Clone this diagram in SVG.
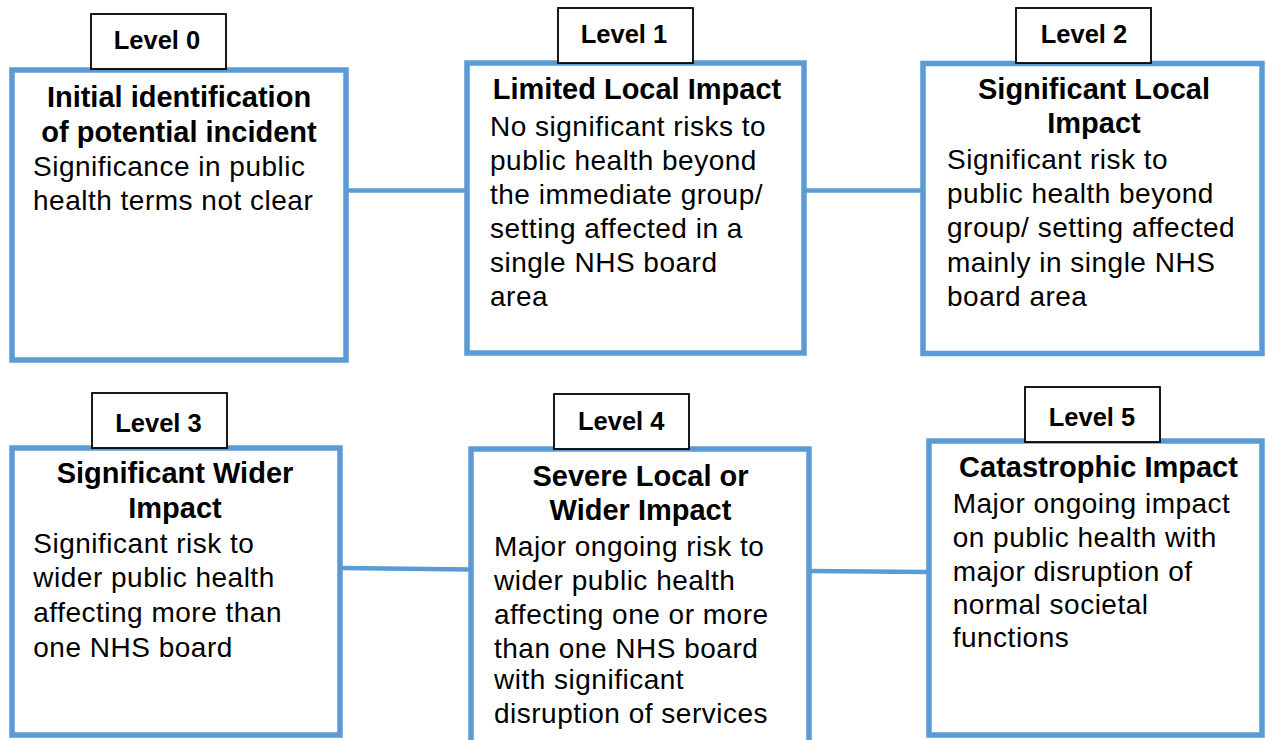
<svg xmlns="http://www.w3.org/2000/svg" width="1266" height="740" viewBox="0 0 1266 740">
<style>
.box{fill:#fff;stroke:#5B9BD5;stroke-width:5.5}
.lbl{fill:#fff;stroke:#000;stroke-width:1.8}
.lt{font-family:"Liberation Sans",Arial,sans-serif;font-weight:bold;font-size:25.5px;text-anchor:middle;fill:#000}
.hd{font-family:"Liberation Sans",Arial,sans-serif;font-weight:bold;font-size:29px;text-anchor:middle;fill:#000}
.bd{font-family:"Liberation Sans",Arial,sans-serif;font-size:28px;letter-spacing:0.5px;fill:#000}
.con{stroke:#5B9BD5;stroke-width:4.5;fill:none}
</style>
<rect width="1266" height="740" fill="#fff"/>
<g id="connectors">
<line class="con" x1="346" y1="190.5" x2="467" y2="190.5"/>
<line class="con" x1="804" y1="190.5" x2="923" y2="190.5"/>
<line class="con" x1="340" y1="568" x2="471" y2="569.5"/>
<line class="con" x1="809" y1="571" x2="929" y2="572"/>
</g>
<g id="level0">
<rect class="box" x="12" y="70" width="334" height="290"/>
<rect class="lbl" x="91" y="14" width="135" height="55"/>
<text class="lt" x="157" y="49">Level 0</text>
<text class="hd" x="179" y="106.5">Initial identification</text>
<text class="hd" x="179" y="141.5">of potential incident</text>
<text class="bd" x="33" y="175.5">Significance in public</text>
<text class="bd" x="33" y="210">health terms not clear</text>
</g>
<g id="level1">
<rect class="box" x="467" y="63" width="337" height="290"/>
<rect class="lbl" x="558" y="8" width="135" height="55"/>
<text class="lt" x="624" y="43.3">Level 1</text>
<text class="hd" x="637" y="99">Limited Local Impact</text>
<text class="bd" x="490" y="135.7">No significant risks to</text>
<text class="bd" x="490" y="170">public health beyond</text>
<text class="bd" x="490" y="203.5">the immediate group/</text>
<text class="bd" x="490" y="237.5">setting affected in a</text>
<text class="bd" x="490" y="271.7">single NHS board</text>
<text class="bd" x="490" y="306">area</text>
</g>
<g id="level2">
<rect class="box" x="923" y="63.5" width="339" height="290"/>
<rect class="lbl" x="1016" y="8" width="135" height="55"/>
<text class="lt" x="1084" y="43.3">Level 2</text>
<text class="hd" x="1094" y="99">Significant Local</text>
<text class="hd" x="1094" y="133.3">Impact</text>
<text class="bd" x="947" y="169">Significant risk to</text>
<text class="bd" x="947" y="203.3">public health beyond</text>
<text class="bd" x="947" y="237.3">group/ setting affected</text>
<text class="bd" x="947" y="271.7">mainly in single NHS</text>
<text class="bd" x="947" y="306">board area</text>
</g>
<g id="level3">
<rect class="box" x="12" y="448" width="328" height="287"/>
<rect class="lbl" x="92" y="393" width="135" height="55"/>
<text class="lt" x="158.5" y="432">Level 3</text>
<text class="hd" x="175" y="483.3">Significant Wider</text>
<text class="hd" x="175" y="517.7">Impact</text>
<text class="bd" x="33.3" y="553.3">Significant risk to</text>
<text class="bd" x="33.3" y="587.3">wider public health</text>
<text class="bd" x="33.3" y="621.7">affecting more than</text>
<text class="bd" x="33.3" y="657">one NHS board</text>
</g>
<g id="level4">
<rect class="box" x="471" y="449" width="338" height="310"/>
<rect class="lbl" x="554" y="394" width="135" height="55"/>
<text class="lt" x="621.2" y="430">Level 4</text>
<text class="hd" x="640.5" y="485.7">Severe Local or</text>
<text class="hd" x="640.5" y="520">Wider Impact</text>
<text class="bd" x="494" y="555.7">Major ongoing risk to</text>
<text class="bd" x="494" y="590">wider public health</text>
<text class="bd" x="494" y="624">affecting one or more</text>
<text class="bd" x="494" y="657.7">than one NHS board</text>
<text class="bd" x="494" y="689.3">with significant</text>
<text class="bd" x="494" y="723.3">disruption of services</text>
</g>
<g id="level5">
<rect class="box" x="929" y="441" width="333" height="294"/>
<rect class="lbl" x="1025" y="387" width="135" height="55"/>
<text class="lt" x="1092" y="425.7">Level 5</text>
<text class="hd" x="1098.5" y="477.3">Catastrophic Impact</text>
<text class="bd" x="952.7" y="513.3">Major ongoing impact</text>
<text class="bd" x="952.7" y="546.7">on public health with</text>
<text class="bd" x="952.7" y="580.7">major disruption of</text>
<text class="bd" x="952.7" y="614">normal societal</text>
<text class="bd" x="952.7" y="647.3">functions</text>
</g>
</svg>
